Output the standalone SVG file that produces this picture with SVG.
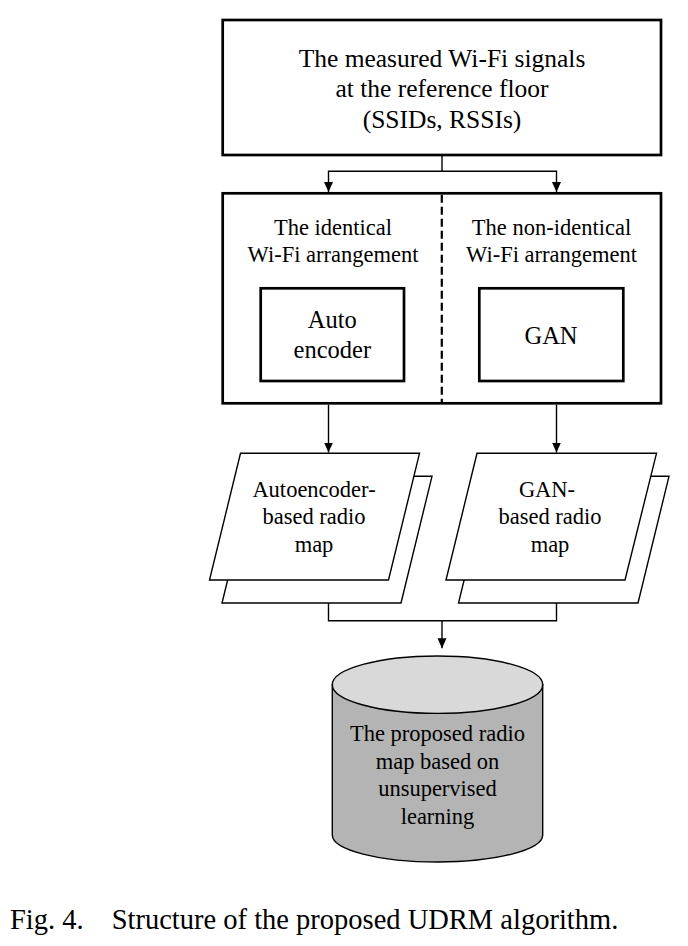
<svg xmlns="http://www.w3.org/2000/svg" width="688" height="946" viewBox="0 0 688 946">
<style>
  text { font-family: "Liberation Serif", "Times New Roman", serif; fill: #000; text-anchor: middle; }
  .t25 { font-size: 25.5px; }
  .t22 { font-size: 22.5px; }
  .t24 { font-size: 24.5px; }
  .box { fill: #fff; stroke: #000; stroke-width: 2.7; }
  .thin { fill: #fff; stroke: #000; stroke-width: 1.4; }
  .conn { fill: none; stroke: #000; stroke-width: 1.4; }
</style>
<defs>
  <marker id="arrow" markerUnits="userSpaceOnUse" markerWidth="10" markerHeight="10" viewBox="0 0 10 10" refX="10" refY="5" orient="auto">
    <path d="M0,0.5 L10,5 L0,9.5 Z" fill="#000"/>
  </marker>
</defs>
<rect width="688" height="946" fill="#fff"/>

<g id="measured">
  <rect class="box" x="222.7" y="20" width="438.3" height="135"/>
  <text class="t25" x="442" y="66.5">The measured Wi-Fi signals</text>
  <text class="t25" x="442" y="97">at the reference floor</text>
  <text class="t25" x="442" y="127.5">(SSIDs, RSSIs)</text>
</g>

<g id="arrangement">
  <rect class="box" x="222.7" y="193.3" width="438.3" height="210"/>
  <line x1="441.8" y1="194.7" x2="441.8" y2="402" stroke="#000" stroke-width="2.2" stroke-dasharray="8 4"/>
  <text class="t22" x="333" y="235">The identical</text>
  <text class="t22" x="333" y="261.7">Wi-Fi arrangement</text>
  <text class="t22" x="551.5" y="235">The non-identical</text>
  <text class="t22" x="551.5" y="261.7">Wi-Fi arrangement</text>
</g>

<g id="autoencoder">
  <rect class="box" x="260.7" y="288.3" width="143.3" height="92.7"/>
  <text class="t24" x="332.3" y="328.3">Auto</text>
  <text class="t24" x="332.3" y="358.3">encoder</text>
</g>

<g id="gan">
  <rect class="box" x="479.3" y="288.3" width="144" height="92.7"/>
  <text class="t24" x="551" y="344">GAN</text>
</g>

<g id="ae-map">
  <polygon class="thin" points="253,476.3 432,476.3 401,603 222,603"/>
  <polygon class="thin" points="240.5,453.3 419.5,453.3 388.5,580 209.5,580"/>
  <text class="t22" x="314" y="496.7">Autoencoder-</text>
  <text class="t22" x="314" y="524.3">based radio</text>
  <text class="t22" x="314" y="551.7">map</text>
</g>

<g id="gan-map">
  <polygon class="thin" points="489.5,476.3 669,476.3 638,603 458.5,603"/>
  <polygon class="thin" points="477,453.3 656.5,453.3 625,580 446,580"/>
  <text class="t22" x="547" y="496.7">GAN-</text>
  <text class="t22" x="550" y="524.3">based radio</text>
  <text class="t22" x="550" y="551.7">map</text>
</g>

<g id="radio-map-db">
  <path d="M332.3,684.7 V835 A105.2,27 0 0 0 542.7,835 V684.7 Z" fill="#b4b4b4" stroke="#000" stroke-width="1.4"/>
  <ellipse cx="437.5" cy="684.7" rx="105.2" ry="28.7" fill="#d9d9d9" stroke="#000" stroke-width="1.4"/>
  <text class="t22" x="437.5" y="741">The proposed radio</text>
  <text class="t22" x="437.5" y="768.5">map based on</text>
  <text class="t22" x="437.5" y="796">unsupervised</text>
  <text class="t22" x="437.5" y="823.5">learning</text>
</g>

<g id="connectors">
  <path class="conn" d="M442,155 V171.3"/>
  <path class="conn" d="M442,171.3 H328.5 V192" marker-end="url(#arrow)"/>
  <path class="conn" d="M442,171.3 H556.5 V192" marker-end="url(#arrow)"/>
  <path class="conn" d="M328.5,404.6 V452.5" marker-end="url(#arrow)"/>
  <path class="conn" d="M556.5,404.6 V452.5" marker-end="url(#arrow)"/>
  <path class="conn" d="M328.5,603 V620.7 H556.5 V603"/>
  <path class="conn" d="M442,620.7 V648.3" marker-end="url(#arrow)"/>
</g>

<text x="10" y="929.3" style="font-size:28.5px;text-anchor:start">Fig. 4.</text>
<text x="111.7" y="929.3" style="font-size:28.5px;text-anchor:start">Structure of the proposed UDRM algorithm.</text>
</svg>
